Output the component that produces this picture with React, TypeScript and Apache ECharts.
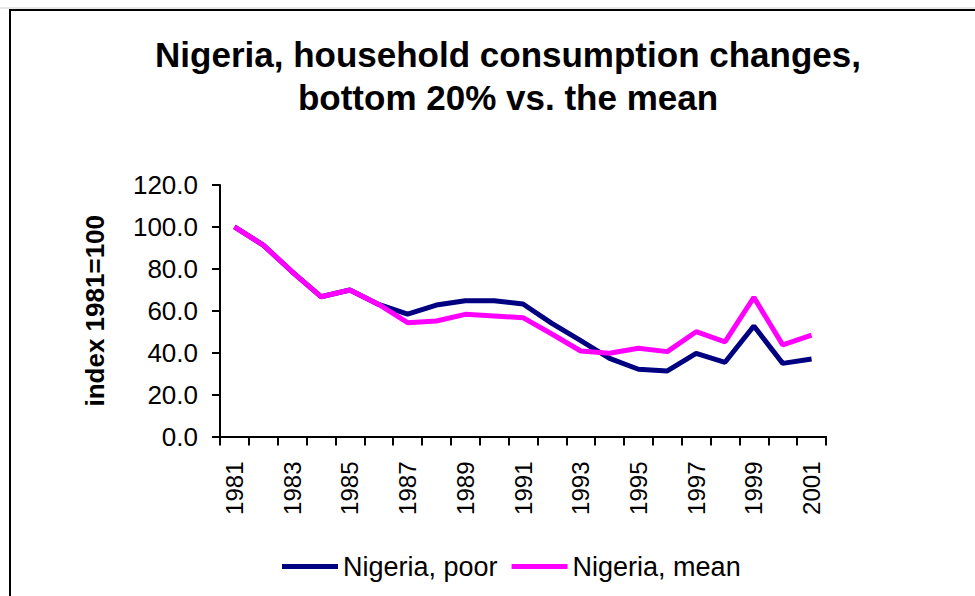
import React, { useEffect, useRef } from "react";
import * as echarts from "echarts";

const years = [
  "1981", "1982", "1983", "1984", "1985", "1986", "1987", "1988", "1989", "1990",
  "1991", "1992", "1993", "1994", "1995", "1996", "1997", "1998", "1999", "2000", "2001",
];
const poor = [100, 91.3, 78.6, 66.7, 69.9, 63, 58.4, 62.7, 64.8, 64.8, 63.2, 54, 45.7, 37.3, 32.1, 31.3, 39.7, 35.4, 52.7, 34.9, 37];
const mean = [100, 91.3, 78.6, 66.7, 69.9, 63, 54.3, 55.1, 58.3, 57.5, 56.7, 48.9, 40.8, 39.7, 42.1, 40.5, 50, 45.2, 66.4, 43.7, 48.4];
const seriesNames = ["Nigeria, poor", "Nigeria, mean"];
const titleText = "Nigeria, household consumption changes,\nbottom 20% vs. the mean";
const yName = "index 1981=100";

const FONT = "'Liberation Sans', Arial, sans-serif";

export default function App() {
  const ref = useRef<HTMLDivElement>(null);
  useEffect(() => {
    if (!ref.current) return;
    const chart = echarts.init(ref.current, null, { renderer: "svg" });
    chart.setOption({
      animation: false,
      backgroundColor: "#ffffff",
      textStyle: { fontFamily: FONT },
      title: {
        text: titleText,
        left: 503,
        top: 28,
        textAlign: "center",
        textStyle: {
          fontFamily: FONT,
          fontSize: 35,
          fontWeight: "bold",
          color: "#000",
          lineHeight: 43,
        },
      },
      graphic: [
        {
          type: "line",
          shape: { x1: 0, y1: 8, x2: 975, y2: 8 },
          style: { stroke: "#d0d0d0", lineWidth: 1 },
          silent: true,
        },
        {
          type: "rect",
          shape: { x: 10, y: 10, width: 1000, height: 700 },
          style: { fill: "none", stroke: "#000", lineWidth: 2 },
          silent: true,
        },
      ],
      legend: {
        left: 282,
        top: 553,
        padding: 0,
        icon: "rect",
        itemWidth: 56,
        itemHeight: 5,
        itemGap: 14,
        textStyle: { fontFamily: FONT, fontSize: 27, color: "#000" },
        data: seriesNames,
      },
      grid: { left: 220, right: 149, top: 185, bottom: 159.5, containLabel: false },
      xAxis: {
        type: "category",
        data: years,
        boundaryGap: true,
        axisLine: { lineStyle: { color: "#000", width: 2 } },
        axisTick: { show: true, interval: 0, length: 9, lineStyle: { color: "#000", width: 2 } },
        axisLabel: {
          interval: 1,
          rotate: 90,
          margin: 25,
          fontSize: 24,
          color: "#000",
          fontFamily: FONT,
        },
        splitLine: { show: false },
      },
      yAxis: {
        type: "value",
        min: 0,
        max: 120,
        interval: 20,
        name: yName,
        nameLocation: "middle",
        nameGap: 112,
        nameTextStyle: { fontFamily: FONT, fontSize: 26, fontWeight: "bold", color: "#000" },
        axisLine: { show: true, lineStyle: { color: "#000", width: 2 } },
        axisTick: { show: true, length: 8, lineStyle: { color: "#000", width: 2 } },
        axisLabel: {
          margin: 22,
          fontSize: 26,
          color: "#000",
          fontFamily: FONT,
          formatter: (v: number) => v.toFixed(1),
        },
        splitLine: { show: false },
      },
      series: [
        {
          name: seriesNames[0],
          type: "line",
          data: poor,
          symbol: "none",
          showSymbol: false,
          lineStyle: { color: "#000080", width: 5 },
          itemStyle: { color: "#000080" },
        },
        {
          name: seriesNames[1],
          type: "line",
          data: mean,
          symbol: "none",
          showSymbol: false,
          lineStyle: { color: "#FF00FF", width: 5 },
          itemStyle: { color: "#FF00FF" },
        },
      ],
    });
    return () => chart.dispose();
  }, []);
  return (
    <div
      ref={ref}
      style={{ position: "absolute", left: 0, top: 0, width: 975, height: 596 }}
    />
  );
}
